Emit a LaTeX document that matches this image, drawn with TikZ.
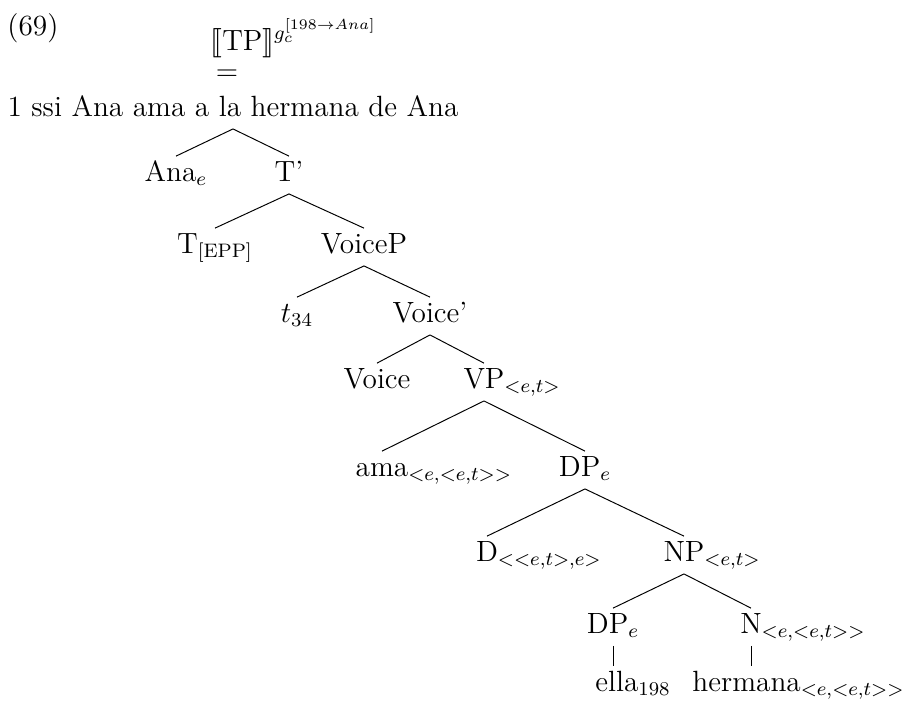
\documentclass[12pt,tikz,border=0pt]{standalone}
\usepackage{amsmath,amssymb}
\usepackage{stmaryrd}
\usepackage{xcolor}
\usepackage{tikz}
\usetikzlibrary{positioning,calc}

\begin{document}
\begin{tikzpicture}[x=0.41pt, y=-0.41pt]
  % Syntax tree with the denotation of TP on top
  \tikzstyle{cat} = [inner sep=0pt, anchor=base, text height=10pt, text depth=5.1pt]
  \tikzstyle{leaf} = [inner sep=0pt, anchor=base west, text height=10pt, text depth=5.1pt]
  \tikzstyle{head} = [inner sep=0pt, anchor=base west]
  \useasboundingbox (0,0) rectangle (905,703);

  % Example number and root
  \node[head] (num) at (7,35) {(69)};
  \node[head] (den) at (210,50) {$\llbracket\text{TP}\rrbracket^{g_c^{[198\rightarrow Ana]}}$};
  \node[inner sep=0pt] (eq) at (227,75) {$=$};
  \node[cat] (root) at (233,116) {1 ssi Ana ama a la hermana de Ana};

  % Categories, level by level
  \node[cat] (ana) at (176,181) {Ana$_e$};
  \node[cat] (tbar) at (289,181) {T'};
  \node[cat] (tepp) at (215,253) {T\textsubscript{[EPP]}};
  \node[cat] (voicep) at (364,253) {VoiceP};
  \node[cat] (trace) at (297,322) {$t_{34}$};
  \node[cat] (voicebar) at (430,322) {Voice'};
  \node[cat] (voice) at (377,388) {Voice};
  \node[cat] (vp) at (484,388) {VP\rlap{$_{<e,t>}$}};
  \node[cat] (ama) at (382,476) {ama\rlap{$_{<e,<e,t>>}$}};
  \node[cat] (dp) at (585,476) {DP$_e$};
  \node[cat] (det) at (487,561) {D\rlap{$_{<<e,t>,e>}$}};
  \node[cat] (np) at (684,561) {NP\rlap{$_{<e,t>}$}};
  \node[cat] (dpe) at (613,633) {DP$_e$};
  \node[cat] (noun) at (751,633) {N\rlap{$_{<e,<e,t>>}$}};
  \node[leaf] (ella) at (595,691) {ella$_{198}$};
  \node[leaf] (herm) at (692,691) {hermana$_{<e,<e,t>>}$};

  % Branches
  \draw (root.south) -- (ana.north);
  \draw (root.south) -- (tbar.north);
  \draw (tbar.south) -- (tepp.north);
  \draw (tbar.south) -- (voicep.north);
  \draw (voicep.south) -- (trace.north);
  \draw (voicep.south) -- (voicebar.north);
  \draw (voicebar.south) -- (voice.north);
  \draw (voicebar.south) -- (vp.north);
  \draw (vp.south) -- (ama.north);
  \draw (vp.south) -- (dp.north);
  \draw (dp.south) -- (det.north);
  \draw (dp.south) -- (np.north);
  \draw (np.south) -- (dpe.north);
  \draw (np.south) -- (noun.north);
  \draw (dpe.south) -- (dpe.south |- ella.north);
  \draw (noun.south) -- (noun.south |- herm.north);
\end{tikzpicture}
\end{document}
